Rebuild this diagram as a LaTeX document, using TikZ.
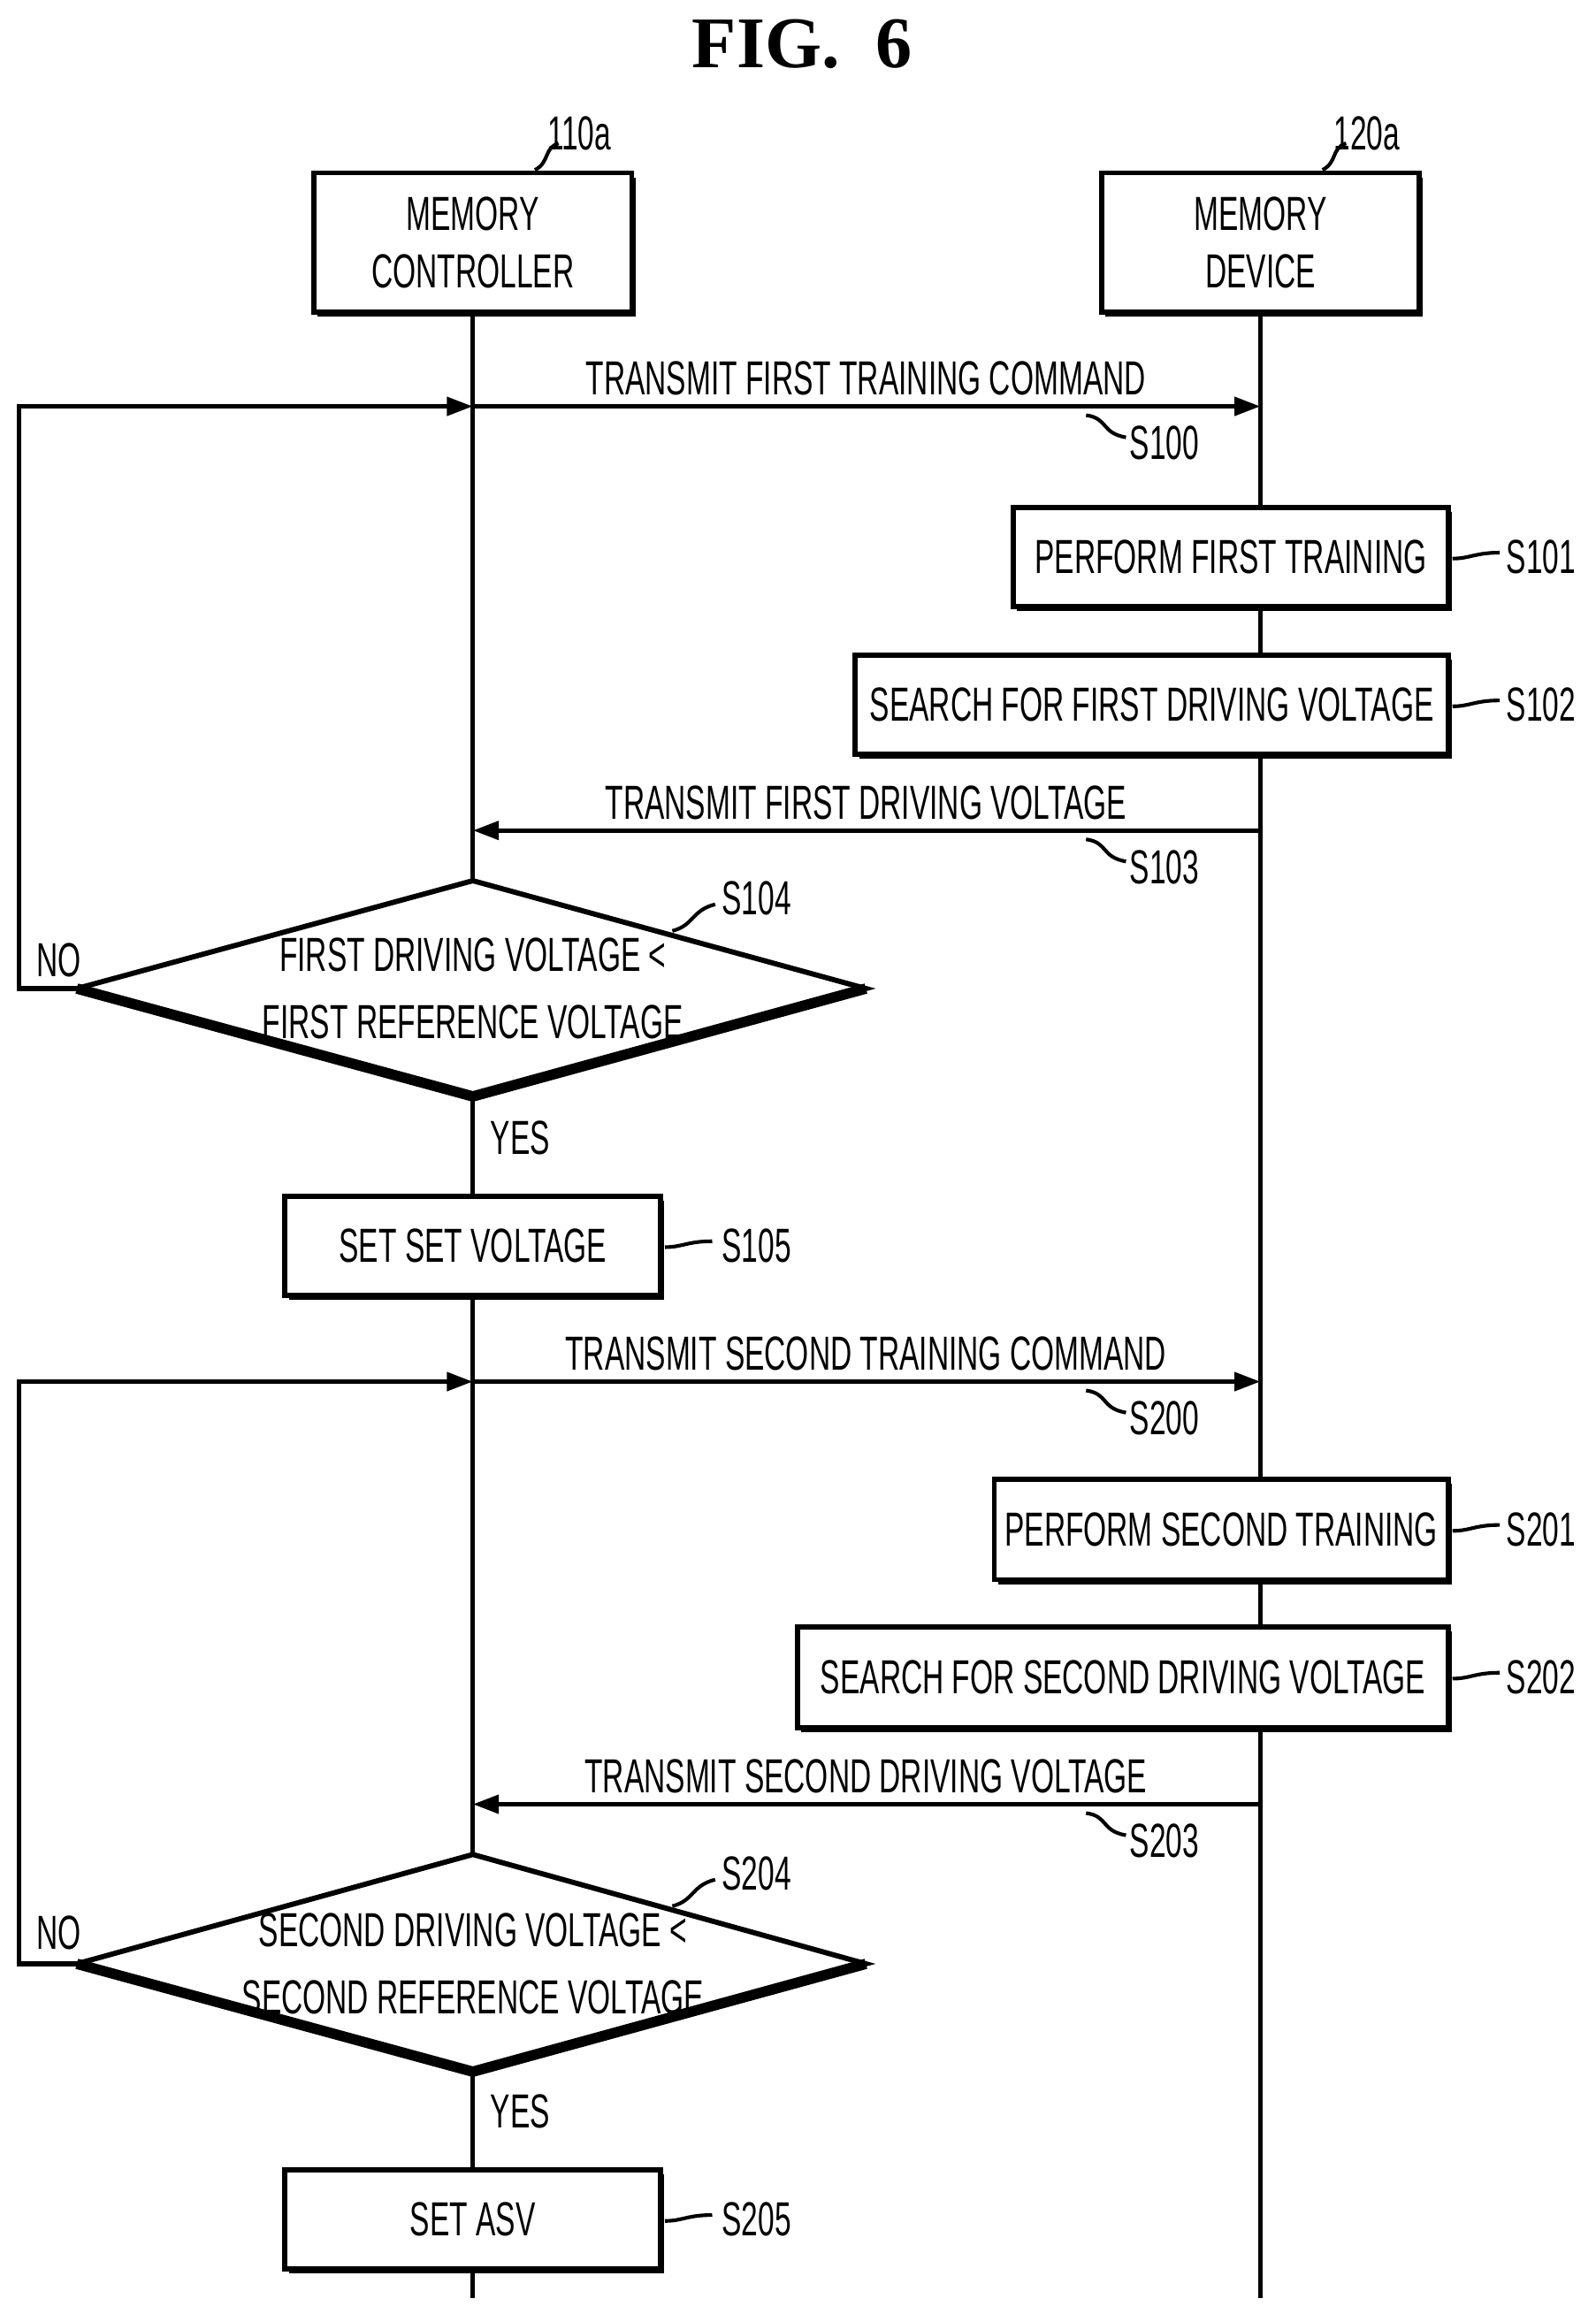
\documentclass[tikz,border=0pt]{standalone}
\usepackage{fontspec}
\setmainfont{Liberation Sans}[FakeStretch=0.62]
\usetikzlibrary{shadows,arrows.meta}
\begin{document}
\begin{tikzpicture}[x=0.01cm,y=-0.01cm,
  line width=0.9pt,
  box/.style={draw,fill=white,line width=1pt,font=\fontsize{9.2}{11}\selectfont,align=center,inner sep=0pt,
    drop shadow={shadow xshift=0.025cm,shadow yshift=-0.03cm,fill=black,opacity=1}},
  txt/.style={font=\fontsize{9.2}{11}\selectfont,inner sep=0pt},
  arr/.style={-{Triangle[length=5pt,width=3.5pt]}},
  lead/.style={line width=0.7pt}]
\useasboundingbox (0,0) rectangle (1080,1566);
\node[font=\bfseries\fontsize{14}{16}\selectfont,inner sep=0pt] (title) at (543,30) {\fontspec{Liberation Serif}FIG.\ \ 6};
% header boxes
\node[box,minimum width=2.15cm,minimum height=0.94cm] (mc) at (320,164) {MEMORY\\CONTROLLER};
\node[box,minimum width=2.15cm,minimum height=0.94cm] (md) at (853,164) {MEMORY\\DEVICE};
\node[txt] (l110) at (392,90) {110a};
\node[txt] (l120) at (925,90) {120a};
\draw[lead] (362,115) .. controls (372,110) and (368,100) .. (378,97);
\draw[lead] (895,115) .. controls (905,110) and (901,100) .. (911,97);
% lifelines
\coordinate (a0) at (320,211); \coordinate (a1) at (320,1555);
\coordinate (b0) at (853,211); \coordinate (b1) at (853,1555);
\draw (a0)--(a1); \draw (b0)--(b1);
% S100
\coordinate (p100a) at (320,275); \coordinate (p100b) at (853,275);
\draw[arr] (p100a)--(p100b);
\node[txt] (t100) at (586,256) {TRANSMIT FIRST TRAINING COMMAND};
\node[txt] (s100) at (788,300) {S100};
\draw[lead] (735,281) .. controls (750,283) and (745,293) .. (762,296);
% S101, S102
\node[box,minimum width=2.94cm,minimum height=0.67cm] (b101) at (833,377) {PERFORM FIRST TRAINING};
\node[box,minimum width=4.01cm,minimum height=0.67cm] (b102) at (779.5,477) {SEARCH FOR FIRST DRIVING VOLTAGE};
\node[txt] (s101) at (1043,377) {S101};
\node[txt] (s102) at (1043,477) {S102};
\draw[lead] (983,378) .. controls (995,378) and (998,374) .. (1015,374);
\draw[lead] (983,478) .. controls (995,478) and (998,474) .. (1015,474);
% S103
\coordinate (p103a) at (853,562); \coordinate (p103b) at (320,562);
\draw[arr] (p103a)--(p103b);
\node[txt] (t103) at (586,543) {TRANSMIT FIRST DRIVING VOLTAGE};
\node[txt] (s103) at (788,587) {S103};
\draw[lead] (735,568) .. controls (750,570) and (745,580) .. (762,583);
% diamond 1
\coordinate (d1t) at (320,596); \coordinate (d1r) at (586,669);
\coordinate (d1b) at (320,742); \coordinate (d1l) at (52,669);
\draw[fill=white,line width=1pt] (d1t)--(d1r)--(d1b)--(d1l)--cycle;
\draw[line width=2pt] (d1l)--(d1b)--(d1r);
\node[txt,align=center] (d1) at (320,669) {FIRST DRIVING VOLTAGE <\\[2pt]FIRST REFERENCE VOLTAGE};
\node[txt] (s104) at (512,608) {S104};
\draw[lead] (455,630) .. controls (470,626) and (468,616) .. (484,612);
\node[txt] (no1) at (40,650) {NO};
\node[txt] (yes1) at (352,770) {YES};
\coordinate (c1a) at (13,669); \coordinate (c1b) at (13,275);
\draw[arr] (d1l)--(c1a)--(c1b)--(p100a);
% S105
\node[box,minimum width=2.54cm,minimum height=0.67cm] (b105) at (320,843) {SET SET VOLTAGE};
\node[txt] (s105) at (512,843) {S105};
\draw[lead] (450,844) .. controls (462,844) and (465,840) .. (482,840);
% S200
\coordinate (p200a) at (320,935); \coordinate (p200b) at (853,935);
\draw[arr] (p200a)--(p200b);
\node[txt] (t200) at (586,916) {TRANSMIT SECOND TRAINING COMMAND};
\node[txt] (s200) at (788,960) {S200};
\draw[lead] (735,941) .. controls (750,943) and (745,953) .. (762,956);
% S201, S202
\node[box,minimum width=3.07cm,minimum height=0.68cm] (b201) at (826.5,1035) {PERFORM SECOND TRAINING};
\node[box,minimum width=4.40cm,minimum height=0.68cm] (b202) at (760,1135) {SEARCH FOR SECOND DRIVING VOLTAGE};
\node[txt] (s201) at (1043,1035) {S201};
\node[txt] (s202) at (1043,1135) {S202};
\draw[lead] (983,1036) .. controls (995,1036) and (998,1032) .. (1015,1032);
\draw[lead] (983,1136) .. controls (995,1136) and (998,1132) .. (1015,1132);
% S203
\coordinate (p203a) at (853,1221); \coordinate (p203b) at (320,1221);
\draw[arr] (p203a)--(p203b);
\node[txt] (t203) at (586,1202) {TRANSMIT SECOND DRIVING VOLTAGE};
\node[txt] (s203) at (788,1246) {S203};
\draw[lead] (735,1227) .. controls (750,1229) and (745,1239) .. (762,1242);
% diamond 2
\coordinate (d2t) at (320,1255); \coordinate (d2r) at (586,1329);
\coordinate (d2b) at (320,1402); \coordinate (d2l) at (52,1329);
\draw[fill=white,line width=1pt] (d2t)--(d2r)--(d2b)--(d2l)--cycle;
\draw[line width=2pt] (d2l)--(d2b)--(d2r);
\node[txt,align=center] (d2) at (320,1329) {SECOND DRIVING VOLTAGE <\\[2pt]SECOND REFERENCE VOLTAGE};
\node[txt] (s204) at (512,1268) {S204};
\draw[lead] (455,1290) .. controls (470,1286) and (468,1276) .. (484,1272);
\node[txt] (no2) at (40,1308) {NO};
\node[txt] (yes2) at (352,1429) {YES};
\coordinate (c2a) at (13,1329); \coordinate (c2b) at (13,935);
\draw[arr] (d2l)--(c2a)--(c2b)--(p200a);
% S205
\node[box,minimum width=2.54cm,minimum height=0.67cm] (b205) at (320,1502) {SET ASV};
\node[txt] (s205) at (512,1502) {S205};
\draw[lead] (450,1503) .. controls (462,1503) and (465,1499) .. (482,1499);
\end{tikzpicture}
\end{document}
